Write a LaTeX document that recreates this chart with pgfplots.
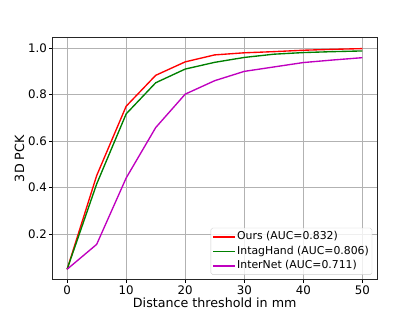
\documentclass[border=0pt]{standalone}
\usepackage{pgfplots}
\pgfplotsset{compat=1.18}
\usepackage{fontspec}
\setmainfont{DejaVu Sans}
\definecolor{mred}{rgb}{1,0,0}
\definecolor{mgreen}{rgb}{0,0.5,0}
\definecolor{mmag}{rgb}{0.75,0,0.75}
\begin{document}
\begin{tikzpicture}
\useasboundingbox (0,0) rectangle (6.4in,4.8in);
\begin{axis}[
  at={(0.8in,0.528in)}, anchor=south west,
  scale only axis, width=4.96in, height=3.696in,
  xmin=-2.5, xmax=52.5, ymin=0.003, ymax=1.045,
  xtick={0,10,20,30,40,50},
  ytick={0.2,0.4,0.6,0.8,1.0},
  yticklabel style={/pgf/number format/fixed, /pgf/number format/fixed zerofill, /pgf/number format/precision=1},
  /pgf/number format/assume math mode=true,
  tick label style={font=\fontsize{13}{15}\selectfont, inner sep=2.5pt},
  label style={font=\fontsize{14}{16}\selectfont},
  xlabel={Distance threshold in mm},
  ylabel={3D PCK},
  xlabel style={yshift=2pt},
  ylabel style={yshift=-2pt},
  grid=major,
  major grid style={color=black!30, line width=0.8pt},
  axis line style={black!85, line width=0.8pt},
  tick align=outside, tick pos=left,
  major tick length=3.5pt,
  tick style={black, line width=0.8pt},
  legend cell align=left,
  legend style={at={(0.985,0.02)}, anchor=south east,
    font=\fontsize{12}{14}\selectfont,
    draw=black!20, rounded corners=2pt, fill=white, fill opacity=0.8, text opacity=1,
    row sep=2.5pt, inner xsep=1.5pt, inner ysep=3pt,
    nodes={inner ysep=1pt, text height=9pt, text depth=2.5pt}},
  legend image code/.code={\draw[mark repeat=2, mark phase=2, #1] plot coordinates {(0pt,0pt) (12pt,0pt) (24pt,0pt)};},
]
\addplot[mred, line width=1.5pt] coordinates {
(0,0.048) (5,0.451) (10,0.750) (15,0.883) (20,0.941) (25,0.971) (30,0.980) (35,0.985) (40,0.991) (45,0.995) (50,0.998)};
\addlegendentry{Ours (AUC=0.832)}
\addplot[mgreen, line width=1.5pt] coordinates {
(0,0.048) (5,0.415) (10,0.717) (15,0.851) (20,0.910) (25,0.939) (30,0.960) (35,0.974) (40,0.981) (45,0.985) (50,0.988)};
\addlegendentry{IntagHand (AUC=0.806)}
\addplot[mmag, line width=1.5pt] coordinates {
(0,0.048) (5,0.155) (10,0.441) (15,0.658) (20,0.802) (25,0.860) (30,0.900) (35,0.919) (40,0.938) (45,0.949) (50,0.959)};
\addlegendentry{InterNet (AUC=0.711)}
\end{axis}
\end{tikzpicture}
\end{document}
